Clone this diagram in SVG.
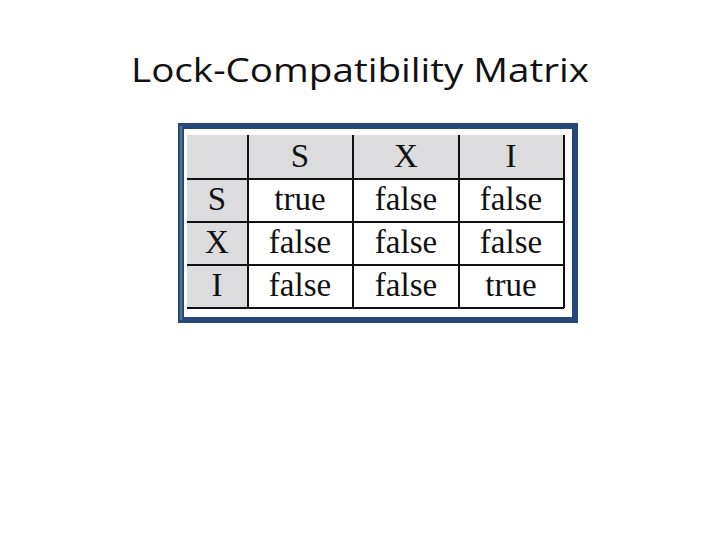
<svg xmlns="http://www.w3.org/2000/svg" width="720" height="540" viewBox="0 0 720 540">
<style>
.t{font-family:"Liberation Serif",serif;font-size:33px;fill:#111;text-anchor:middle}
.g{fill:#dcdbdd}
.l{stroke:#111;stroke-width:2;fill:none}
</style>
<rect width="720" height="540" fill="#fff"/>
<text x="360" y="82" font-family="Open Sans, Liberation Sans, sans-serif" font-size="33" text-anchor="middle" textLength="458" lengthAdjust="spacingAndGlyphs" fill="#111">Lock-Compatibility Matrix</text>
<g id="matrix">
<rect x="181" y="126" width="394" height="194" fill="#fff" stroke="#24487a" stroke-width="6"/>
<line x1="181" y1="126" x2="181" y2="320" stroke="#8aa" stroke-width="1"/>
<rect class="g" x="187" y="135" width="377" height="44"/>
<rect class="g" x="187" y="179" width="61" height="129"/>
<path class="l" d="M248 135V308M353 135V308M459 135V308M564 135V308M187 179H564M187 222H564M187 265H564M187 308H564"/>
<text class="t" x="300" y="167">S</text><text class="t" x="406" y="167">X</text><text class="t" x="511" y="167">I</text>
<text class="t" x="217" y="210">S</text><text class="t" x="300" y="210">true</text><text class="t" x="406" y="210">false</text><text class="t" x="511" y="210">false</text>
<text class="t" x="217" y="253">X</text><text class="t" x="300" y="253">false</text><text class="t" x="406" y="253">false</text><text class="t" x="511" y="253">false</text>
<text class="t" x="217" y="296">I</text><text class="t" x="300" y="296">false</text><text class="t" x="406" y="296">false</text><text class="t" x="511" y="296">true</text>
</g>
</svg>
